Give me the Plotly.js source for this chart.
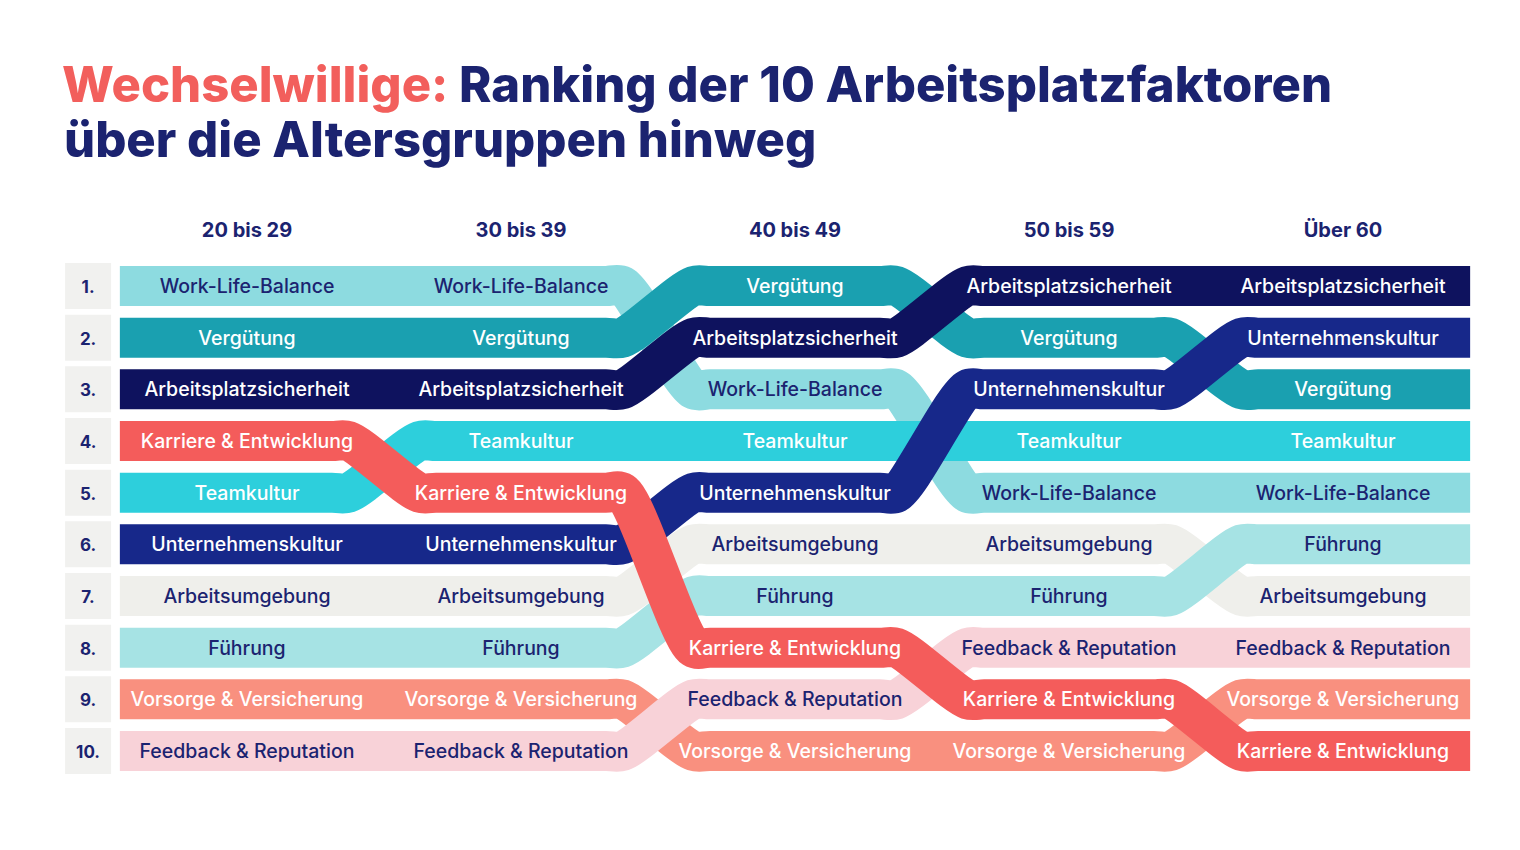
<!DOCTYPE html>
<html><head><meta charset="utf-8">
<script src="https://cdn.plot.ly/plotly-3.0.1.min.js"></script>
<style>html,body{margin:0;padding:0;background:#fff}#chart{width:1520px;height:850px}</style>
</head><body><div id="chart"></div>
<script>
const ageGroups = ["20 bis 29", "30 bis 39", "40 bis 49", "50 bis 59", "Über 60"];
const rankLabels = ["1.", "2.", "3.", "4.", "5.", "6.", "7.", "8.", "9.", "10."];
// drawing order: bottom to top
const factors = ["Work-Life-Balance", "Vergütung", "Teamkultur", "Arbeitsumgebung", "Führung",
  "Vorsorge & Versicherung", "Feedback & Reputation", "Arbeitsplatzsicherheit", "Unternehmenskultur", "Karriere & Entwicklung"];
const rankWLB = [1, 1, 3, 5, 5];
const rankVerguetung = [2, 2, 1, 2, 3];
const rankTeam = [5, 4, 4, 4, 4];
const rankUmgebung = [7, 7, 6, 6, 7];
const rankFuehrung = [8, 8, 7, 7, 6];
const rankVorsorge = [9, 9, 10, 10, 9];
const rankFeedback = [10, 10, 9, 8, 8];
const rankSicherheit = [3, 3, 2, 1, 1];
const rankUK = [6, 6, 5, 3, 2];
const rankKarriere = [4, 5, 8, 9, 10];
const ranks = [rankWLB, rankVerguetung, rankTeam, rankUmgebung, rankFuehrung, rankVorsorge, rankFeedback, rankSicherheit, rankUK, rankKarriere];

const bandColors = ["#8ddbe0", "#1aa0b0", "#2dcfdc", "#efefeb", "#a6e3e4", "#f9907f", "#f8d2d8", "#0e125e", "#17288a", "#f45c5b"];
const textColors = ["#1b2370", "#ffffff", "#ffffff", "#1b2370", "#1b2370", "#ffffff", "#1b2370", "#ffffff", "#ffffff", "#ffffff"];

const navy = "#1b2370";
const FONT = "Inter, 'Noto Sans', sans-serif";
const flat = 0.37, flatIn = 0.31, endExt = 0.464;

const traces = [];
factors.forEach((f, k) => {
  const xs = [], ys = [];
  const last = ageGroups.length - 1;
  ranks[k].forEach((r, i) => {
    if (i === 0) { xs.push(i - endExt); ys.push(r); }
    else { xs.push(i - flat, i - flatIn); ys.push(r, r); }
    xs.push(i); ys.push(r);
    if (i === last) { xs.push(i + endExt); ys.push(r); }
    else { xs.push(i + flatIn, i + flat); ys.push(r, r); }
  });
  traces.push({
    type: "scatter", mode: "lines", x: xs, y: ys,
    line: {color: bandColors[k], width: 40, shape: "spline", smoothing: 0.8},
    hoverinfo: "skip", showlegend: false
  });
});
// labels on bands
factors.forEach((f, k) => {
  traces.push({
    type: "scatter", mode: "text",
    x: ageGroups.map((_, i) => i), y: ranks[k].map(r => r + 0.04),
    text: ageGroups.map(() => f),
    textfont: {family: FONT, size: 19.5, color: textColors[k], weight: 500},
    textposition: "middle center", hoverinfo: "skip", showlegend: false
  });
});
// rank boxes
traces.push({
  type: "scatter", mode: "markers",
  x: rankLabels.map(() => -0.58), y: rankLabels.map((_, i) => i + 1),
  marker: {symbol: "square", size: 46, color: "#f1f1ef"},
  hoverinfo: "skip", showlegend: false
});
traces.push({
  type: "scatter", mode: "text",
  x: rankLabels.map(() => -0.58), y: rankLabels.map((_, i) => i + 1.05),
  text: rankLabels,
  textfont: {family: FONT, size: 17, color: navy, weight: 700},
  textposition: "middle center", hoverinfo: "skip", showlegend: false
});
// column headers
traces.push({
  type: "scatter", mode: "text",
  x: ageGroups.map((_, i) => i), y: ageGroups.map(() => -0.04),
  text: ageGroups,
  textfont: {family: FONT, size: 20, color: navy, weight: 700},
  textposition: "middle center", hoverinfo: "skip", showlegend: false
});

const layout = {
  width: 1520, height: 850,
  margin: {l: 0, r: 0, t: 0, b: 0},
  paper_bgcolor: "#ffffff", plot_bgcolor: "#ffffff",
  title: {
    text: '<span style="color:#f25f5c">Wechselwillige:</span> Ranking der 10 Arbeitsplatzfaktoren',
    font: {family: FONT, size: 49, color: navy, weight: 800},
    x: 62 / 1520, xanchor: "left", xref: "container",
    y: 1 - 85 / 850, yanchor: "middle", yref: "container"
  },
  annotations: [{
    text: "über die Altersgruppen hinweg",
    xref: "paper", yref: "paper", x: 62 / 1520, y: 1 - 139 / 850,
    xanchor: "left", yanchor: "middle", showarrow: false,
    font: {family: FONT, size: 49, color: navy, weight: 800}
  }],
  xaxis: {range: [-247 / 274, (1520 - 247) / 274], visible: false, fixedrange: true},
  yaxis: {range: [1 + 564 / 51.67, 1 - 286 / 51.67], visible: false, fixedrange: true},
  showlegend: false
};
Plotly.newPlot("chart", traces, layout, {displayModeBar: false, staticPlot: true});
</script></body></html>
